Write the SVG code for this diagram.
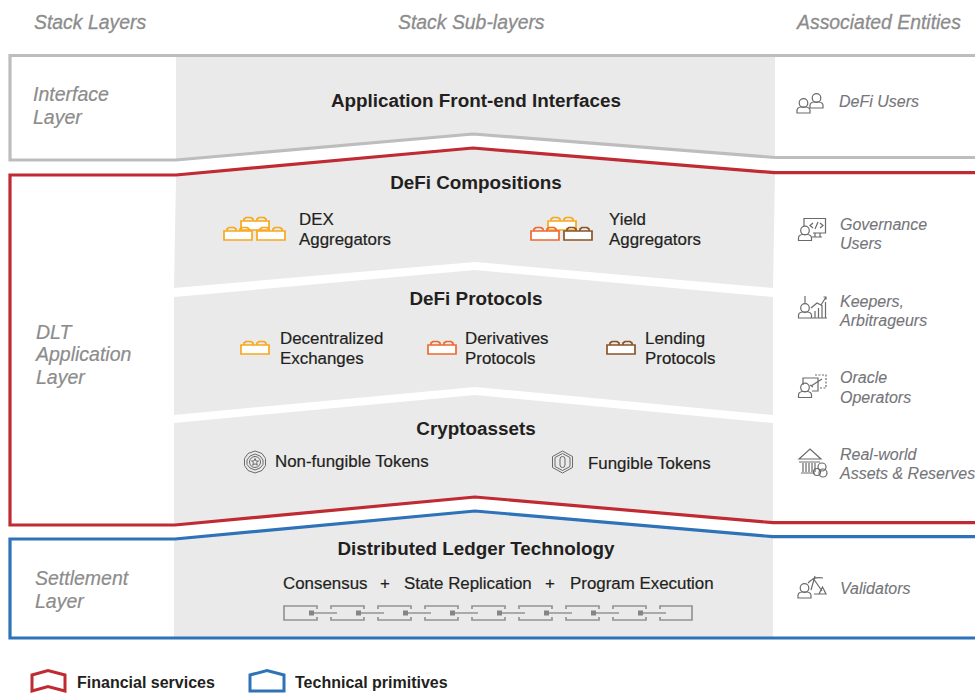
<svg xmlns="http://www.w3.org/2000/svg" xmlns:xlink="http://www.w3.org/1999/xlink" width="975" height="696" viewBox="0 0 975 696">
<style>
text{font-family:"Liberation Sans",Arial,sans-serif;fill:#231f20}
.h{font-size:18.85px;font-weight:700;text-anchor:middle}
.t{font-size:16.9px;stroke:#231f20;stroke-width:.2}
.head{font-size:19.4px;font-style:italic;fill:#8c8c8c;stroke:#8c8c8c;stroke-width:.3}
.layer{font-size:19.5px;font-style:italic;fill:#8c8c8c;stroke:#8c8c8c;stroke-width:.2}
.ent{font-size:16px;font-style:italic;fill:#75757a;stroke:#75757a;stroke-width:.1}
.leg{font-size:16px;font-weight:700}
.panel{fill:#eaeaea}
.frame{fill:none;stroke-width:3.2}
.ic{fill:none;stroke:#6a6a6a;stroke-width:1.2}
.tok{fill:none;stroke:#6a6a6a;stroke-width:1}
.cl{fill:none;stroke:#949494;stroke-width:1.7}
.csq{fill:#858585}
</style>
<defs>
<g id="brick"><rect x="0" y="0" width="28" height="9" fill="#fff"/><path d="M0 0H28V9H0ZM3 0V-2L5-3.500H10L12-2V0M16 0V-2L18-3.500H23L25-2V0" fill="none" stroke="currentColor" stroke-width="1.700"/></g>
<g id="person" class="ic"><circle cx="0" cy="-10" r="4.300"/><path d="M-6.500 0V-2.500Q-6.500-5.500-2.500-6H2.500Q6.500-5.500 6.500-2.500V0Z"/></g>
<g id="link"><path class="cl" d="M0 3V0H33V3M33 11V14H0V11"/></g>
</defs>

<g id="panels">
<path class="panel" d="M176 57H775V158L473 135L176 160Z"/>
<path class="panel" d="M176 176L473 149L775 173L773 288L475 262L174 288Z"/>
<path class="panel" d="M174 297L475 270L773 297V415L475 387L174 415Z"/>
<path class="panel" d="M174 423L475 395L773 423V522L475 497L174 525Z"/>
<path class="panel" d="M174 539L475 511L773 537V638H174Z"/>
</g>

<g id="connectors">
<path class="frame" stroke="#bdbdbd" d="M976 55.500H10V160H176L473 134L775 157.500H976"/>
<path class="frame" stroke="#bf2a33" d="M976 172.700H775L473 148L176 175H10V525H175L475 497L773 522.700H976"/>
<path class="frame" stroke="#2e72b8" d="M976 536.700H773L475 511L175 539H10V638H976"/>
</g>

<g id="column-heads">
<text class="head" x="34" y="29">Stack Layers</text>
<text class="head" x="398" y="29">Stack Sub-layers</text>
<text class="head" x="797" y="29">Associated Entities</text>
</g>

<g id="interface-layer"><text class="layer" x="33" y="100.500">Interface</text><text class="layer" x="33" y="123.500">Layer</text></g>
<g id="dlt-application-layer"><text class="layer" x="36" y="338.500">DLT</text><text class="layer" x="36" y="360.500">Application</text><text class="layer" x="36" y="383.500">Layer</text></g>
<g id="settlement-layer"><text class="layer" x="35" y="584.500">Settlement</text><text class="layer" x="35" y="607.500">Layer</text></g>

<g id="app-front-end"><text class="h" x="476" y="106.500">Application Front-end Interfaces</text></g>

<g id="defi-compositions"><text class="h" x="476" y="189">DeFi Compositions</text></g>
<g id="dex-aggregators" color="#f7a81b">
<use href="#brick" x="241" y="221"/><use href="#brick" x="224" y="231"/><use href="#brick" x="257" y="231"/>
<text class="t" x="299" y="225">DEX</text><text class="t" x="299" y="245">Aggregators</text>
</g>
<g id="yield-aggregators">
<use href="#brick" x="548" y="221" color="#f7a81b"/><use href="#brick" x="531" y="231" color="#ed6a2e"/><use href="#brick" x="564" y="231" color="#8a5426"/>
<text class="t" x="609" y="225">Yield</text><text class="t" x="609" y="245">Aggregators</text>
</g>

<g id="defi-protocols"><text class="h" x="476" y="304.500">DeFi Protocols</text></g>
<g id="decentralized-exchanges" color="#f7a81b"><use href="#brick" x="241" y="345"/><text class="t" x="280" y="344">Decentralized</text><text class="t" x="280" y="364">Exchanges</text></g>
<g id="derivatives-protocols" color="#ed6a2e"><use href="#brick" x="428" y="345"/><text class="t" x="465" y="344">Derivatives</text><text class="t" x="465" y="364">Protocols</text></g>
<g id="lending-protocols" color="#8a5426"><use href="#brick" x="607" y="345"/><text class="t" x="645" y="344">Lending</text><text class="t" x="645" y="364">Protocols</text></g>

<g id="cryptoassets"><text class="h" x="476" y="435">Cryptoassets</text></g>
<g id="non-fungible-tokens">
<path class="tok" d="M255 451L262 453.500L265.500 458.500V465.500L262 470.500L255 473L248 470.500L244.500 465.500V458.500L248 453.500Z"/>
<path class="tok" d="M255 454L260 456L263 460V464.500L260 468L255 470L250 468L247 464.500V460L250 456Z"/>
<circle class="tok" cx="255" cy="462" r="5.500"/>
<path class="tok" d="M255 458.500L256 461H258.500L256.500 462.700L257.300 465.200L255 463.800L252.700 465.200L253.500 462.700L251.500 461H254Z"/>
<text class="t" x="275" y="467">Non-fungible Tokens</text>
</g>
<g id="fungible-tokens">
<path class="tok" d="M562.500 451L572.500 456.500V467.500L562.500 473L552.500 467.500V456.500Z"/>
<path class="tok" d="M562.500 453.500L570 457.500V466.500L562.500 470.500L555 466.500V457.500Z"/>
<rect class="tok" x="560" y="456.500" width="5" height="11" rx="2.500"/>
<text class="t" x="588" y="469">Fungible Tokens</text>
</g>

<g id="distributed-ledger"><text class="h" x="476" y="554.500">Distributed Ledger Technology</text>
<text class="t" x="283" y="589">Consensus</text><text class="t" x="380" y="589">+</text><text class="t" x="404" y="589">State Replication</text><text class="t" x="545" y="589">+</text><text class="t" x="570" y="589">Program Execution</text>
</g>
<g id="chain" transform="translate(284 606)">
<path class="cl" d="M0 3V0H33V3M33 11V14H0V11M0 3V11"/>
<use href="#link" x="47"/><use href="#link" x="94"/><use href="#link" x="141"/><use href="#link" x="188"/><use href="#link" x="235"/><use href="#link" x="282"/><use href="#link" x="329"/>
<path class="cl" d="M376 3V0H408V14H376V11"/>
<path class="cl" d="M28 7H53M75 7H100M122 7H147M169 7H194M216 7H241M263 7H288M310 7H335M357 7H382"/>
<rect class="csq" x="25" y="4.500" width="5" height="5"/><rect class="csq" x="72" y="4.500" width="5" height="5"/><rect class="csq" x="119" y="4.500" width="5" height="5"/><rect class="csq" x="166" y="4.500" width="5" height="5"/><rect class="csq" x="213" y="4.500" width="5" height="5"/><rect class="csq" x="260" y="4.500" width="5" height="5"/><rect class="csq" x="307" y="4.500" width="5" height="5"/><rect class="csq" x="354" y="4.500" width="5" height="5"/>
</g>

<g id="defi-users">
<use href="#person" x="803.500" y="113"/><use href="#person" x="816.500" y="108"/>
<text class="ent" x="839" y="106.500">DeFi Users</text>
</g>
<g id="governance-users">
<path class="ic" d="M804 226V218.500H825.500V233H813M815 233V237H820V233M812 237H822"/>
<path class="ic" stroke-width="0.900" d="M813 223L810 225.500L813 228M820 223L823 225.500L820 228M818 222L815 229"/>
<use href="#person" x="805" y="240.500"/>
<text class="ent" x="840" y="230">Governance</text><text class="ent" x="840" y="249">Users</text>
</g>
<g id="keepers-arbitrageurs">
<path class="ic" d="M805 296V303"/>
<use href="#person" x="805" y="318"/>
<path class="ic" d="M811 308L817 303L821 305L826 297M823.500 297H826V299.500M815 318V311M818.500 318V308M822 318V305M825.500 318V302M812 318H827"/>
<text class="ent" x="840" y="307">Keepers,</text><text class="ent" x="840" y="326">Arbitrageurs</text>
</g>
<g id="oracle-operators">
<path class="ic" d="M803 385V378H818V391H812"/>
<path class="ic" stroke-dasharray="2 1.500" d="M815 375H826V388H819"/>
<path class="ic" d="M811 386L822 379M810 385L813 387"/>
<use href="#person" x="805" y="397.500"/>
<text class="ent" x="840" y="383">Oracle</text><text class="ent" x="840" y="403">Operators</text>
</g>
<g id="real-world-assets">
<path class="ic" d="M799 459L810 449L821 459ZM799 462H820M801 473H815M803 463V472M806 463V472M809 463V472M812 463V472M815 463V472"/>
<circle class="ic" cx="822" cy="467" r="4"/><circle class="ic" cx="817" cy="472" r="3.500"/><circle class="ic" cx="823" cy="473" r="4"/>
<text class="ent" x="840" y="460">Real-world</text><text class="ent" x="840" y="479">Assets &amp; Reserves</text>
</g>
<g id="validators">
<use href="#person" x="804.500" y="598"/>
<path class="ic" d="M808 583Q814 576 823 578M815 576L811 590M813 578L822 591M819 594H826L822.500 587ZM814 594H819"/>
<text class="ent" x="840" y="593.500">Validators</text>
</g>

<g id="legend">
<path fill="none" stroke="#bf2a33" stroke-width="3" d="M32 675L48 670.500L65 675V691L48 686.500L32 691Z"/>
<text class="leg" x="77" y="688">Financial services</text>
<path fill="none" stroke="#2e72b8" stroke-width="3" d="M250 675L267 670.500L284 675V691H250Z"/>
<text class="leg" x="295" y="688">Technical primitives</text>
</g>
</svg>
